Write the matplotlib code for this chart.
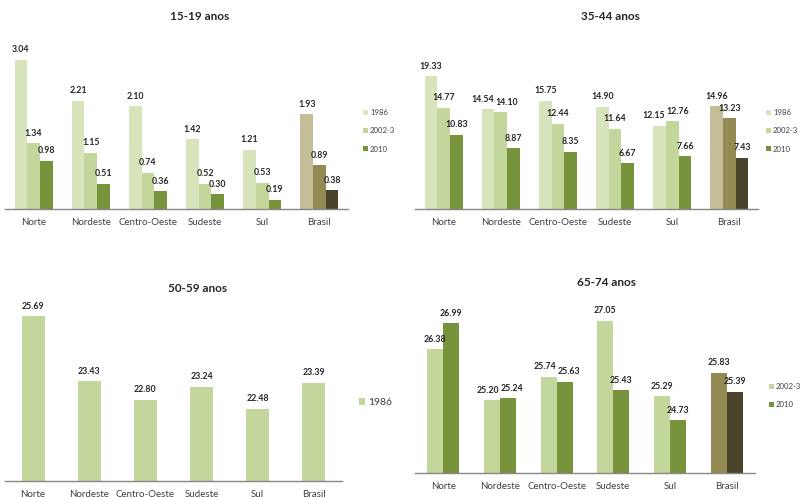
import matplotlib
matplotlib.use("Agg")
import matplotlib.pyplot as plt
from matplotlib.patches import Patch

plt.rcParams['font.family'] = ['Lato', 'DejaVu Sans']

regions = ['Norte', 'Nordeste', 'Centro-Oeste', 'Sudeste', 'Sul', 'Brasil']

v15_1986 = [3.04, 2.21, 2.10, 1.42, 1.21, 1.93]
v15_2002 = [1.34, 1.15, 0.74, 0.52, 0.53, 0.89]
v15_2010 = [0.98, 0.51, 0.36, 0.30, 0.19, 0.38]

v35_1986 = [19.33, 14.54, 15.75, 14.90, 12.15, 14.96]
v35_2002 = [14.77, 14.10, 12.44, 11.64, 12.76, 13.23]
v35_2010 = [10.83, 8.87, 8.35, 6.67, 7.66, 7.43]

v50_1986 = [25.69, 23.43, 22.80, 23.24, 22.48, 23.39]

v65_2002 = [26.38, 25.20, 25.74, 27.05, 25.29, 25.83]
v65_2010 = [26.99, 25.24, 25.63, 25.43, 24.73, 25.39]

series_names = ['1986', '2002-3', '2010']

C1986, C2002, C2010 = '#d7e4bc', '#c3d69b', '#77933c'
B1986, B2002, B2010 = '#c4bd97', '#948a54', '#4a452a'

W, H = 804, 497
fig = plt.figure(figsize=(W / 100, H / 100), dpi=100)

TXT = '#262626'
TICK = '#404040'

all_labels = []


def add_ax(x0, x1, ybase, ytop):
    return fig.add_axes([x0 / W, 1 - ybase / H, (x1 - x0) / W, (ybase - ytop) / H])


def draw(ax, series, colors, brcolors, width, ylim):
    n = len(series)
    xs = range(len(regions))
    labels = [[None] * n for _ in regions]
    for i, vals in enumerate(series):
        off = (i - (n - 1) / 2) * width
        cols = [colors[i]] * (len(regions) - 1) + [brcolors[i]]
        pos = [x + off for x in xs]
        ax.bar(pos, vals, width=width, color=cols, zorder=2)
        for j, (p, v) in enumerate(zip(pos, vals)):
            t = ax.annotate(f'{v:.2f}', (p, v), xytext=(0, 4), textcoords='offset points',
                            ha='center', va='bottom', fontsize=6.3, fontweight='bold',
                            color=TXT)
            labels[j][i] = t
    all_labels.extend(labels)
    ax.set_xlim(-0.5, len(regions) - 0.5)
    ax.set_ylim(*ylim)
    ax.set_xticks(list(xs))
    ax.set_xticklabels(regions, fontsize=7, color=TICK)
    ax.tick_params(axis='x', length=0, pad=6.5)
    ax.set_yticks([])
    for s in ['top', 'right', 'left']:
        ax.spines[s].set_visible(False)
    ax.spines['bottom'].set_color('#868686')
    ax.spines['bottom'].set_linewidth(1.0)
    ax.set_facecolor('none')


# 15-19 anos
ax1 = add_ax(5, 348, 209, 209 - 3.5 * 49)
draw(ax1, [v15_1986, v15_2002, v15_2010], [C1986, C2002, C2010], [B1986, B2002, B2010],
     0.222, (0, 3.5))
fig.text(200 / W, 1 - 17 / H, '15-19 anos', ha='center', va='center', fontsize=8.5,
         fontweight='bold', color=TXT)

# 35-44 anos
ax2 = add_ax(415, 758, 209, 209 - 25 * 6.87)
draw(ax2, [v35_1986, v35_2002, v35_2010], [C1986, C2002, C2010], [B1986, B2002, B2010],
     0.222, (0, 25))
fig.text(610 / W, 1 - 17 / H, '35-44 anos', ha='center', va='center', fontsize=8.5,
         fontweight='bold', color=TXT)

# 50-59 anos
ax3 = add_ax(5, 342, 480.5, 480.5 - 6 * 28.9)
draw(ax3, [v50_1986], [C2002], [C2002], 0.41, (20, 26))
fig.text(198 / W, 1 - 288 / H, '50-59 anos', ha='center', va='center', fontsize=8.5,
         fontweight='bold', color=TXT)

# 65-74 anos
ax4 = add_ax(415, 755, 473, 473 - 4 * 42.9)
draw(ax4, [v65_2002, v65_2010], [C2002, C2010], [B2002, B2010], 0.282, (23.5, 27.5))
fig.text(607 / W, 1 - 282 / H, '65-74 anos', ha='center', va='center', fontsize=8.5,
         fontweight='bold', color=TXT)


def legend(x, y, names, cols, fs, sp):
    handles = [Patch(facecolor=c, edgecolor='none') for c in cols]
    fig.legend(handles, names, loc='upper left', bbox_to_anchor=(x / W, 1 - y / H),
               frameon=False, fontsize=fs, handlelength=0.6, handleheight=0.6,
               handletextpad=0.3, labelspacing=sp, borderpad=0, borderaxespad=0,
               labelcolor=TICK)


legend(363, 109, series_names, [C1986, C2002, C2010], 5.6, 1.45)
legend(766, 109, series_names, [C1986, C2002, C2010], 5.6, 1.45)
legend(359, 398, ['1986'], [C2002], 7.5, 1.0)
legend(769, 383, series_names[1:], [C2002, C2010], 5.6, 1.45)

# separate neighbouring value labels that would touch
fig.canvas.draw()
r = fig.canvas.get_renderer()
for group in all_labels:
    for a, b in zip(group[:-1], group[1:]):
        ea = a.get_window_extent(r)
        eb = b.get_window_extent(r)
        if ea.overlaps(eb):
            ov = ea.x1 - eb.x0 + 1.5
            if ov > 0:
                sh = ov / 2 * 72 / fig.dpi
                xa, ya = a.xyann
                xb, yb = b.xyann
                a.xyann = (xa - sh, ya)
                b.xyann = (xb + sh, yb)

fig.savefig('out.png', dpi=100)
